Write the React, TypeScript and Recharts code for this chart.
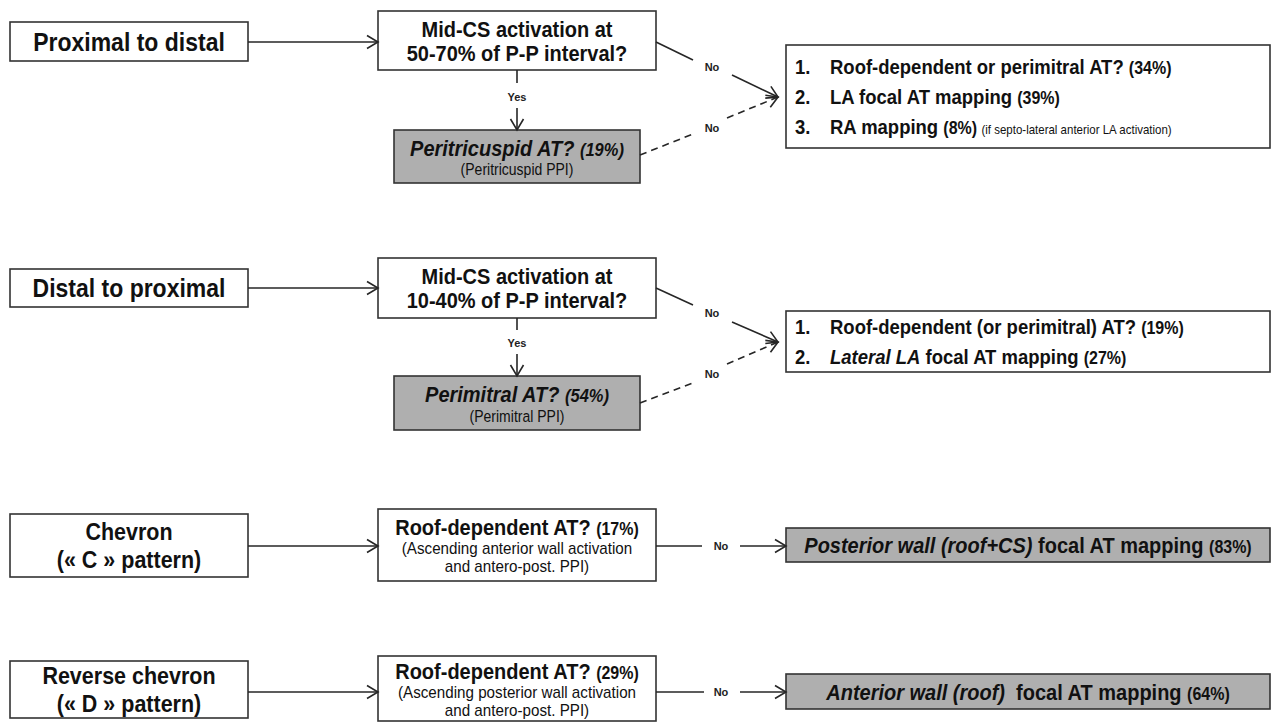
import { ScatterChart, Scatter, XAxis, YAxis, ReferenceArea, ReferenceLine } from "recharts";

const W = 1272;
const H = 724;
const FONT = '"Liberation Sans", Arial, sans-serif';
const SY = 1.12;

// text kinds -> style lookup lives in the renderer
type Kind = "src" | "srcLg" | "head" | "headIt" | "pct" | "pctIt" | "note" | "noteSm" | "tiny" | "item" | "itemIt";
type Seg = [string, Kind];
type Line = Seg[];

// flowchart nodes, in chart units (domain 0..1272 x 0..724)
const boxes = [
  { id: "src1", x1: 10, y1: 22, x2: 248, y2: 61 },
  { id: "q1", x1: 378, y1: 11, x2: 656, y2: 70 },
  { id: "g1", x1: 394, y1: 130, x2: 640, y2: 183, shaded: true },
  { id: "r1", x1: 786, y1: 45, x2: 1270, y2: 148, list: true },
  { id: "src2", x1: 10, y1: 269, x2: 248, y2: 307 },
  { id: "q2", x1: 378, y1: 258, x2: 656, y2: 318 },
  { id: "g2", x1: 394, y1: 376, x2: 640, y2: 430, shaded: true },
  { id: "r2", x1: 786, y1: 311, x2: 1270, y2: 372, list: true },
  { id: "src3", x1: 10, y1: 514, x2: 248, y2: 577 },
  { id: "q3", x1: 378, y1: 509, x2: 656, y2: 581 },
  { id: "r3", x1: 786, y1: 528, x2: 1270, y2: 562, shaded: true },
  { id: "src4", x1: 10, y1: 661, x2: 248, y2: 718 },
  { id: "q4", x1: 378, y1: 656, x2: 656, y2: 721 },
  { id: "r4", x1: 786, y1: 674, x2: 1270, y2: 709, shaded: true },
];

const sourceLabels: Record<string, Line[]> = {
  src1: [[["Proximal to distal", "srcLg"]]],
  src2: [[["Distal to proximal", "srcLg"]]],
  src3: [[["Chevron", "src"]], [["(« C » pattern)", "src"]]],
  src4: [[["Reverse chevron", "src"]], [["(« D » pattern)", "src"]]],
};

const questions: Record<string, Line[]> = {
  q1: [[["Mid-CS activation at", "head"]], [["50-70% of P-P interval?", "head"]]],
  q2: [[["Mid-CS activation at", "head"]], [["10-40% of P-P interval?", "head"]]],
  q3: [
    [["Roof-dependent AT? ", "head"], ["(17%)", "pct"]],
    [["(Ascending anterior wall activation", "note"]],
    [["and antero-post. PPI)", "note"]],
  ],
  q4: [
    [["Roof-dependent AT? ", "head"], ["(29%)", "pct"]],
    [["(Ascending posterior wall activation", "note"]],
    [["and antero-post. PPI)", "note"]],
  ],
};

const yesBranches: Record<string, Line[]> = {
  g1: [[["Peritricuspid AT? ", "headIt"], ["(19%)", "pctIt"]], [["(Peritricuspid PPI)", "noteSm"]]],
  g2: [[["Perimitral AT? ", "headIt"], ["(54%)", "pctIt"]], [["(Perimitral PPI)", "noteSm"]]],
};

const outcomes: Record<string, Line[]> = {
  r3: [[["Posterior wall (roof+CS) ", "headIt"], ["focal AT mapping ", "head"], ["(83%)", "pct"]]],
  r4: [[["Anterior wall (roof)  ", "headIt"], ["focal AT mapping ", "head"], ["(64%)", "pct"]]],
};

const outcomeLists: Record<string, Line[]> = {
  r1: [
    [["Roof-dependent or perimitral AT? ", "item"], ["(34%)", "pct"]],
    [["LA focal AT mapping ", "item"], ["(39%)", "pct"]],
    [["RA mapping ", "item"], ["(8%) ", "pct"], ["(if septo-lateral anterior LA activation)", "tiny"]],
  ],
  r2: [
    [["Roof-dependent (or perimitral) AT? ", "item"], ["(19%)", "pct"]],
    [["Lateral LA", "itemIt"], [" focal AT mapping ", "item"], ["(27%)", "pct"]],
  ],
};

// connectors
const links = [
  { a: [248, 42], b: [378, 42], head: true },
  { a: [517, 70], b: [517, 83] },
  { a: [517, 108], b: [517, 130], head: true },
  { a: [656, 42], b: [693, 60] },
  { a: [732, 75], b: [778, 97], head: true },
  { a: [640, 155], b: [693, 134], dashed: true },
  { a: [727, 118], b: [778, 97], dashed: true, head: true },

  { a: [248, 288], b: [378, 288], head: true },
  { a: [517, 318], b: [517, 330] },
  { a: [517, 354], b: [517, 376], head: true },
  { a: [656, 288], b: [693, 305] },
  { a: [732, 322], b: [778, 342], head: true },
  { a: [640, 403], b: [693, 383], dashed: true },
  { a: [727, 364], b: [778, 342], dashed: true, head: true },

  { a: [248, 546], b: [378, 546], head: true },
  { a: [656, 546], b: [702, 546] },
  { a: [740, 546], b: [786, 546], head: true },

  { a: [248, 692], b: [378, 692], head: true },
  { a: [656, 692], b: [704, 692] },
  { a: [740, 692], b: [786, 692], head: true },
];

const edgeLabels = [
  { x: 517, y: 97, label: "Yes" },
  { x: 712, y: 67, label: "No" },
  { x: 712, y: 128, label: "No" },
  { x: 517, y: 343, label: "Yes" },
  { x: 712, y: 313, label: "No" },
  { x: 712, y: 374, label: "No" },
  { x: 721, y: 546, label: "No" },
  { x: 721, y: 692, label: "No" },
];

const STYLE: Record<Kind, { size: number; weight: number; italic?: boolean; lead: number }> = {
  src: { size: 21.5, weight: 700, lead: 28 },
  srcLg: { size: 23, weight: 700, lead: 28 },
  head: { size: 20, weight: 700, lead: 24 },
  headIt: { size: 20, weight: 700, italic: true, lead: 26 },
  item: { size: 18.5, weight: 700, lead: 30 },
  itemIt: { size: 18.5, weight: 700, italic: true, lead: 30 },
  pct: { size: 16, weight: 700, lead: 20 },
  pctIt: { size: 16.5, weight: 700, italic: true, lead: 20 },
  note: { size: 15.2, weight: 400, lead: 18 },
  noteSm: { size: 14, weight: 400, lead: 18 },
  tiny: { size: 11.5, weight: 400, lead: 14 },
};

function TextLine({ x, y, segs, anchor = "middle" }: { x: number; y: number; segs: Line; anchor?: "middle" | "start" }) {
  const main = STYLE[segs[0][1]];
  const base = y + (main.size * 0.716 * SY) / 2;
  return (
    <text
      transform={`translate(${x} ${base}) scale(1 ${SY})`}
      textAnchor={anchor}
      fontFamily={FONT}
      fill="#111"
      style={{ whiteSpace: "pre" }}
    >
      {segs.map(([t, k], i) => {
        const s = STYLE[k];
        return (
          <tspan key={i} fontSize={s.size} fontWeight={s.weight} fontStyle={s.italic ? "italic" : "normal"}>
            {t}
          </tspan>
        );
      })}
    </text>
  );
}

function centeredLines(lines: Line[], cx: number, cy: number) {
  const leads = lines.map((l) => STYLE[l[0][1]].lead);
  const total = leads.reduce((s, v) => s + v, 0);
  let y = cy - total / 2;
  return lines.map((l, i) => {
    const c = y + leads[i] / 2;
    y += leads[i];
    return <TextLine key={i} x={cx} y={c} segs={l} />;
  });
}

function makeBox(box: (typeof boxes)[number]) {
  return (props: any) => {
    const { x, y, width, height } = props;
    const cx = x + width / 2;
    const cy = y + height / 2;
    const lines = sourceLabels[box.id] || questions[box.id] || yesBranches[box.id] || outcomes[box.id];
    const list = outcomeLists[box.id];
    return (
      <g>
        <rect x={x} y={y} width={width} height={height} fill={box.shaded ? "#afafaf" : "#fff"} stroke="#333" strokeWidth={1.6} />
        {lines && centeredLines(lines, cx, cy)}
        {list &&
          list.map((segs, i) => {
            const lead = STYLE.item.lead;
            const c = cy - (list.length * lead) / 2 + lead / 2 + i * lead;
            return (
              <g key={i}>
                <TextLine x={x + 9} y={c} segs={[[`${i + 1}.`, "item"]]} anchor="start" />
                <TextLine x={x + 44} y={c} segs={segs} anchor="start" />
              </g>
            );
          })}
      </g>
    );
  };
}

function makeLink(link: (typeof links)[number]) {
  return (props: any) => {
    const { x1, y1, x2, y2 } = props;
    const dx = x2 - x1;
    const dy = y2 - y1;
    const len = Math.hypot(dx, dy) || 1;
    const ux = dx / len;
    const uy = dy / len;
    const L = 11;
    const Wd = 6.5;
    const bx = x2 - ux * L;
    const by = y2 - uy * L;
    return (
      <g>
        <line x1={x1} y1={y1} x2={x2} y2={y2} stroke="#262626" strokeWidth={1.6} strokeDasharray={link.dashed ? "7 5" : undefined} />
        {link.head && (
          <polyline
            points={`${bx - uy * Wd},${by + ux * Wd} ${x2},${y2} ${bx + uy * Wd},${by - ux * Wd}`}
            fill="none"
            stroke="#262626"
            strokeWidth={1.6}
          />
        )}
      </g>
    );
  };
}

function EdgeLabel(props: any) {
  const { cx, cy, payload } = props;
  return (
    <text x={cx} y={cy + 4} textAnchor="middle" fontFamily={FONT} fontSize={11} fontWeight={700} fill="#222">
      {payload.label}
    </text>
  );
}

export default function App() {
  return (
    <div style={{ position: "absolute", left: 0, top: 0, background: "#fff" }}>
      <ScatterChart width={W} height={H} margin={{ top: 0, right: 0, bottom: 0, left: 0 }}>
        <XAxis type="number" dataKey="x" domain={[0, W]} hide allowDataOverflow />
        <YAxis type="number" dataKey="y" domain={[0, H]} reversed hide allowDataOverflow />
        {links.map((l, i) => (
          <ReferenceLine
            key={`l${i}`}
            segment={[
              { x: l.a[0], y: l.a[1] },
              { x: l.b[0], y: l.b[1] },
            ]}
            shape={makeLink(l)}
            ifOverflow="visible"
          />
        ))}
        {boxes.map((b) => (
          <ReferenceArea key={b.id} x1={b.x1} x2={b.x2} y1={b.y1} y2={b.y2} shape={makeBox(b)} ifOverflow="visible" />
        ))}
        <Scatter data={edgeLabels} shape={EdgeLabel} isAnimationActive={false} />
      </ScatterChart>
    </div>
  );
}
